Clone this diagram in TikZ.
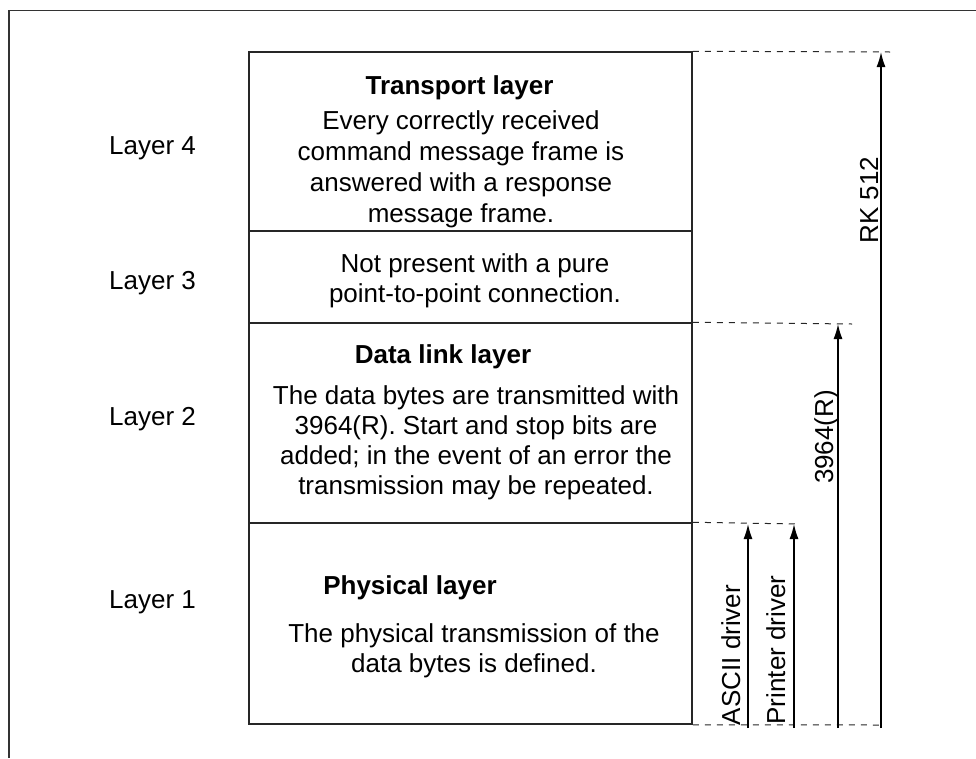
\documentclass[tikz,border=0pt]{standalone}
\usepackage{fontspec}
\setmainfont{Liberation Sans}
\usetikzlibrary{arrows.meta}
\begin{document}
\begin{tikzpicture}[x=1pt,y=-1pt,
  frame/.style={draw=black!80, line width=1.6pt},
  layerbox/.style={draw=black!85, line width=1.5pt, rectangle, inner sep=0pt, minimum width=443pt},
  guide/.style={draw=black!85, line width=1pt, dash pattern=on 6pt off 6pt},
  span/.style={draw=black, line width=1.4pt, -{Latex[length=15pt,width=9pt]}},
  txt/.style={font=\fontsize{26}{30}\selectfont, align=center, inner sep=0pt},
  ttl/.style={font=\fontsize{26}{30}\selectfont\bfseries, inner sep=0pt},
  lbl/.style={font=\fontsize{26}{30}\selectfont, anchor=base west, inner sep=0pt},
  vlbl/.style={font=\fontsize{26}{30}\selectfont, rotate=90, anchor=base, inner sep=0pt}]

\useasboundingbox (0,0) rectangle (976,758);

% page frame (open to the right and bottom)
\draw[frame] (9,758) -- (9,10.5) -- (976,10.5);

% the four protocol layers
\node[layerbox, minimum height=179pt] (l4) at (470.5,141.5) {};
\node[layerbox, minimum height=92pt]  (l3) at (470.5,277) {};
\node[layerbox, minimum height=200pt] (l2) at (470.5,423) {};
\node[layerbox, minimum height=201pt] (l1) at (470.5,623.5) {};

% layer contents
\node[ttl] (t4) at (459.5,88) {Transport layer};
\node[txt, font=\fontsize{26}{31}\selectfont] (b4) at (461,169) {Every correctly received\\command message frame is\\answered with a response\\message frame.};
\node[txt] (b3) at (475,281) {Not present with a pure\\point-to-point connection.};
\node[ttl] (t2) at (443,357) {Data link layer};
\node[txt] (b2) at (476,443) {The data bytes are transmitted with\\3964(R). Start and stop bits are\\added; in the event of an error the\\transmission may be repeated.};
\node[ttl] (t1) at (410,588) {Physical layer};
\node[txt] (b1) at (474,651) {The physical transmission of the\\data bytes is defined.};

% layer numbers
\node[lbl] (n4) at (109,154) {Layer 4};
\node[lbl] (n3) at (109,289) {Layer 3};
\node[lbl] (n2) at (109,425) {Layer 2};
\node[lbl] (n1) at (109,608) {Layer 1};

% extension lines
\coordinate (g4) at (890,52);
\coordinate (g2) at (852,324);
\coordinate (g1) at (798,524);
\coordinate (g0) at (882,725);
\draw[guide] (l4.north east) -- (g4);
\draw[guide] (l2.north east) -- (g2);
\draw[guide] (l1.north east) -- (g1);
\draw[guide] (l1.south east) -- (g0);

% ranges covered by each protocol
\coordinate (asciiB) at (748,728);   \coordinate (asciiT) at (748,524);
\coordinate (prnB)   at (794,728);   \coordinate (prnT)   at (794,524);
\coordinate (r3964B) at (838,728);   \coordinate (r3964T) at (838,324);
\coordinate (rkB)    at (881,728);   \coordinate (rkT)    at (881,52);
\draw[span] (asciiB) -- (asciiT);
\draw[span] (prnB) -- (prnT);
\draw[span] (r3964B) -- (r3964T);
\draw[span] (rkB) -- (rkT);

\node[vlbl] (la) at (740,655) {ASCII driver};
\node[vlbl] (lp) at (785,650) {Printer driver};
\node[vlbl] (lr) at (833,437) {3964(R)};
\node[vlbl] (lk) at (878,200) {RK 512};
\end{tikzpicture}
\end{document}
